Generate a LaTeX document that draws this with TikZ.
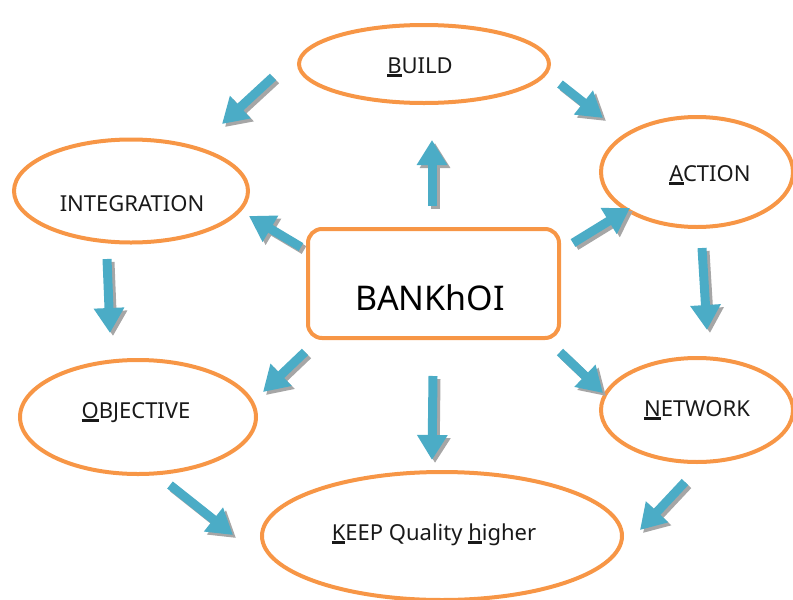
\documentclass[tikz,border=0pt]{standalone}
\usepackage{fontspec}
\setmainfont{Noto Sans}
\usetikzlibrary{shapes.geometric,arrows.meta}
\definecolor{orng}{HTML}{F79646}
\definecolor{blu}{HTML}{4BACC6}
\definecolor{shd}{HTML}{A6A6A6}
\newcommand{\fl}[1]{\setbox0\hbox{#1}\rlap{\rule[-4pt]{\wd0}{2.8pt}}#1}
\tikzset{
  oval/.style={draw=orng, line width=4pt, ellipse, inner sep=0pt, outer sep=0pt},
  lbl/.style={font=\fontsize{22}{26}\selectfont, text=black!90, inner sep=0pt, anchor=base},
  barrow/.style={line width=9pt, -{Triangle[width=29pt,length=25pt]}},
}
\newcommand{\blockarrow}[2]{%
  \draw[barrow, shd] ([shift={(3,3)}]#1) -- ([shift={(3,3)}]#2);
  \draw[barrow, blu] (#1) -- (#2);}
\begin{document}
\begin{tikzpicture}[x=1pt, y=-1pt]
\useasboundingbox (0,0) rectangle (793,600);
\clip (0,0) rectangle (793,600);
% ellipses
\node[oval, minimum width=250pt, minimum height=78pt] (build) at (424,64) {};
\node[oval, minimum width=192pt, minimum height=110pt] (action) at (697,172) {};
\node[oval, minimum width=234pt, minimum height=103pt] (integ) at (131,191) {};
\node[oval, minimum width=236pt, minimum height=114pt] (obj) at (138,417) {};
\node[oval, minimum width=192pt, minimum height=104pt] (net) at (697,410) {};
\node[oval, minimum width=360pt, minimum height=128pt] (keep) at (442,536) {};
\node[draw=orng, line width=4pt, rounded corners=14pt, minimum width=251pt, minimum height=109pt, inner sep=0pt] (bank) at (433.5,283.5) {};
% labels
\node[lbl] (tbuild) at (420,73) {\fl{B}UILD};
\node[lbl] (taction) at (710,181) {\fl{A}CTION};
\node[lbl] (tinteg) at (132,211) {INTEGRATION};
\node[lbl] (tobj) at (136,418) {\fl{O}BJECTIVE};
\node[lbl] (tnet) at (697,416) {\fl{N}ETWORK};
\node[lbl] (tkeep) at (434,540) {\fl{K}EEP Quality \fl{h}igher};
\node[lbl, font=\fontsize{34}{40}\selectfont, text=black] (tbank) at (430,310) {BANKhOI};
% arrow anchor coordinates
\coordinate (a1s) at (273,77);  \coordinate (a1e) at (222,124);
\coordinate (a2s) at (560,84);  \coordinate (a2e) at (603,118);
\coordinate (a3s) at (432,206); \coordinate (a3e) at (432,140);
\coordinate (a4s) at (301,247); \coordinate (a4e) at (249,216);
\coordinate (a5s) at (573,243); \coordinate (a5e) at (630,208);
\coordinate (a6s) at (107,259); \coordinate (a6e) at (110,333);
\coordinate (a7s) at (702,248); \coordinate (a7e) at (707,330);
\coordinate (a8s) at (305,352); \coordinate (a8e) at (263,392);
\coordinate (a9s) at (433,376); \coordinate (a9e) at (432,460);
\coordinate (a10s) at (560,352); \coordinate (a10e) at (603,393);
\coordinate (a11s) at (170,485); \coordinate (a11e) at (233,535);
\coordinate (a12s) at (685,482); \coordinate (a12e) at (640,530);
\blockarrow{a1s}{a1e}
\blockarrow{a2s}{a2e}
\blockarrow{a3s}{a3e}
\blockarrow{a4s}{a4e}
\blockarrow{a5s}{a5e}
\blockarrow{a6s}{a6e}
\blockarrow{a7s}{a7e}
\blockarrow{a8s}{a8e}
\blockarrow{a9s}{a9e}
\blockarrow{a10s}{a10e}
\blockarrow{a11s}{a11e}
\blockarrow{a12s}{a12e}
\end{tikzpicture}
\end{document}
